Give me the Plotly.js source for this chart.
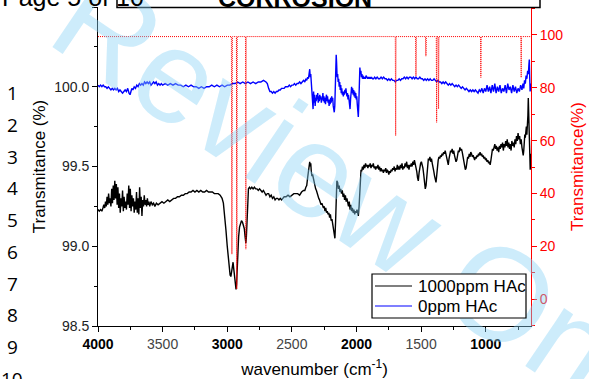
<!DOCTYPE html>
<html>
<head>
<meta charset="utf-8">
<script src="https://cdn.plot.ly/plotly-3.0.1.min.js"></script>
<style>
  html, body { margin: 0; padding: 0; background: #fff; }
  #chart { width: 589px; height: 379px; }
</style>
</head>
<body>
<div id="chart"></div>
<script>
// FTIR spectra: [wavenumber cm-1, transmittance %]
const spec1000ppm = [
  [4000,99.23],[3990,99.22],[3980,99.23],[3970,99.22],[3962,99.24],[3955,99.26],[3948,99.24],[3942,99.28],
  [3936,99.25],[3930,99.31],[3924,99.26],[3918,99.33],[3912,99.27],[3906,99.30],[3900,99.25],[3894,99.36],
  [3888,99.27],[3882,99.38],[3876,99.29],[3870,99.41],[3864,99.30],[3858,99.39],[3852,99.26],[3846,99.37],
  [3840,99.24],[3834,99.33],[3828,99.21],[3822,99.30],[3816,99.25],[3810,99.35],[3804,99.22],[3798,99.31],
  [3792,99.24],[3786,99.28],[3780,99.23],[3774,99.33],[3768,99.26],[3762,99.38],[3756,99.24],[3750,99.36],
  [3744,99.22],[3738,99.32],[3732,99.25],[3726,99.30],[3720,99.21],[3714,99.28],[3708,99.23],[3702,99.34],
  [3696,99.21],[3690,99.30],[3684,99.20],[3678,99.37],[3672,99.24],[3666,99.31],[3660,99.19],[3654,99.29],
  [3648,99.25],[3642,99.32],[3636,99.26],[3630,99.29],[3624,99.25],[3618,99.30],[3612,99.26],[3606,99.28],
  [3600,99.25],[3590,99.28],[3580,99.26],[3570,99.27],[3560,99.25],[3548,99.27],[3535,99.26],[3520,99.27],
  [3505,99.28],[3490,99.27],[3475,99.28],[3460,99.29],[3445,99.28],[3430,99.29],[3415,99.30],[3400,99.30],
  [3385,99.31],[3370,99.31],[3355,99.32],[3340,99.32],[3325,99.33],[3310,99.33],[3295,99.34],[3280,99.34],
  [3265,99.35],[3250,99.34],[3235,99.35],[3220,99.34],[3205,99.35],[3190,99.34],[3175,99.34],[3160,99.35],
  [3145,99.34],[3130,99.34],[3115,99.34],[3100,99.33],[3085,99.33],[3070,99.33],[3055,99.32],[3040,99.30],
  [3030,99.27],[3020,99.20],[3010,99.10],[3000,99.00],[2992,98.92],[2985,98.86],[2978,98.82],[2972,98.81],
  [2966,98.84],[2960,98.89],[2955,98.90],[2950,98.86],[2944,98.80],[2938,98.75],[2932,98.73],[2928,98.76],
  [2924,98.86],[2918,98.97],[2912,99.06],[2905,99.12],[2898,99.15],[2890,99.16],[2882,99.15],[2875,99.13],
  [2868,99.11],[2862,99.06],[2856,99.02],[2852,99.06],[2847,99.20],[2842,99.31],[2836,99.36],[2828,99.37],
  [2820,99.36],[2810,99.37],[2800,99.36],[2790,99.37],[2780,99.36],[2770,99.36],[2760,99.35],[2750,99.36],
  [2740,99.35],[2730,99.34],[2720,99.35],[2710,99.33],[2700,99.32],[2690,99.33],[2680,99.33],[2670,99.31],
  [2660,99.32],[2650,99.30],[2640,99.31],[2630,99.29],[2620,99.30],[2610,99.30],[2600,99.29],[2590,99.30],
  [2580,99.29],[2570,99.30],[2560,99.31],[2545,99.31],[2530,99.32],[2515,99.31],[2500,99.32],[2485,99.33],
  [2470,99.33],[2455,99.33],[2440,99.32],[2425,99.34],[2410,99.35],[2400,99.35],[2392,99.37],[2385,99.38],
  [2378,99.43],[2372,99.47],[2366,99.51],[2362,99.53],[2358,99.50],[2354,99.52],[2350,99.47],[2345,99.44],
  [2340,99.45],[2334,99.42],[2328,99.40],[2322,99.38],[2316,99.36],[2310,99.35],[2304,99.33],[2298,99.32],
  [2292,99.30],[2286,99.29],[2280,99.28],[2274,99.26],[2268,99.27],[2262,99.25],[2256,99.24],[2250,99.25],
  [2244,99.22],[2238,99.24],[2232,99.21],[2226,99.22],[2220,99.20],[2214,99.21],[2208,99.18],[2202,99.20],
  [2196,99.16],[2190,99.17],[2184,99.14],[2178,99.12],[2172,99.08],[2167,99.05],[2162,99.15],[2157,99.32],
  [2152,99.41],[2146,99.40],[2140,99.36],[2134,99.38],[2128,99.34],[2122,99.36],[2116,99.33],[2110,99.35],
  [2104,99.31],[2098,99.33],[2092,99.29],[2086,99.32],[2080,99.28],[2074,99.30],[2068,99.27],[2062,99.25],
  [2056,99.28],[2050,99.23],[2044,99.26],[2038,99.22],[2032,99.24],[2026,99.21],[2020,99.23],[2014,99.20],
  [2008,99.22],[2002,99.21],[1996,99.23],[1990,99.20],[1986,99.19],[1980,99.25],[1975,99.35],[1970,99.44],
  [1965,99.48],[1960,99.47],[1954,99.50],[1948,99.48],[1942,99.51],[1936,99.49],[1930,99.52],[1924,99.50],
  [1918,99.51],[1912,99.49],[1906,99.51],[1900,99.50],[1894,99.52],[1888,99.49],[1882,99.51],[1876,99.50],
  [1870,99.52],[1864,99.49],[1858,99.50],[1852,99.48],[1846,99.50],[1840,99.49],[1834,99.51],[1828,99.48],
  [1822,99.50],[1816,99.47],[1810,99.49],[1804,99.47],[1798,99.48],[1792,99.46],[1786,99.48],[1780,99.47],
  [1774,99.49],[1768,99.46],[1762,99.48],[1756,99.47],[1750,99.45],[1744,99.47],[1738,99.46],[1732,99.48],
  [1726,99.47],[1720,99.49],[1714,99.48],[1708,99.50],[1702,99.47],[1696,99.49],[1690,99.48],[1684,99.51],
  [1678,99.48],[1672,99.50],[1666,99.48],[1660,99.51],[1654,99.49],[1648,99.52],[1642,99.48],[1636,99.50],
  [1630,99.49],[1624,99.52],[1618,99.50],[1612,99.53],[1606,99.49],[1600,99.51],[1594,99.48],[1588,99.51],
  [1582,99.50],[1576,99.52],[1570,99.50],[1564,99.53],[1558,99.51],[1552,99.54],[1546,99.52],[1540,99.50],
  [1534,99.47],[1528,99.43],[1522,99.41],[1516,99.46],[1510,99.51],[1504,99.52],[1498,99.53],[1492,99.51],
  [1486,99.49],[1480,99.45],[1474,99.40],[1468,99.36],[1462,99.38],[1456,99.45],[1450,99.52],[1444,99.55],
  [1438,99.54],[1432,99.56],[1426,99.53],[1420,99.55],[1414,99.52],[1408,99.50],[1402,99.47],[1396,99.44],
  [1390,99.41],[1385,99.40],[1380,99.44],[1374,99.50],[1368,99.54],[1362,99.56],[1356,99.55],[1350,99.57],
  [1344,99.56],[1338,99.58],[1332,99.57],[1326,99.59],[1320,99.58],[1314,99.60],[1308,99.58],[1302,99.56],
  [1296,99.53],[1290,99.51],[1284,99.55],[1278,99.58],[1272,99.60],[1266,99.59],[1260,99.61],[1254,99.58],
  [1248,99.60],[1242,99.57],[1236,99.55],[1230,99.53],[1224,99.54],[1218,99.58],[1212,99.60],[1206,99.59],
  [1200,99.62],[1194,99.60],[1188,99.61],[1182,99.59],[1176,99.56],[1170,99.53],[1164,99.50],[1158,99.48],
  [1152,99.49],[1146,99.53],[1140,99.56],[1134,99.55],[1128,99.58],[1122,99.56],[1116,99.59],[1110,99.58],
  [1104,99.56],[1098,99.57],[1092,99.55],[1086,99.54],[1080,99.56],[1074,99.55],[1068,99.57],[1062,99.56],
  [1056,99.58],[1050,99.57],[1044,99.59],[1038,99.57],[1032,99.58],[1026,99.56],[1020,99.57],[1014,99.55],
  [1008,99.56],[1002,99.54],[996,99.55],[990,99.53],[984,99.54],[978,99.52],[972,99.53],[966,99.51],
  [960,99.54],[954,99.58],[948,99.61],[942,99.60],[936,99.62],[930,99.64],[924,99.61],[918,99.63],
  [912,99.60],[906,99.62],[900,99.59],[894,99.63],[888,99.61],[882,99.64],[876,99.62],[870,99.65],
  [864,99.60],[858,99.64],[852,99.62],[846,99.66],[840,99.63],[834,99.67],[828,99.62],[822,99.65],
  [816,99.61],[810,99.64],[804,99.60],[798,99.66],[792,99.63],[786,99.65],[780,99.62],[774,99.67],
  [768,99.64],[762,99.69],[756,99.66],[750,99.71],[744,99.67],[738,99.69],[732,99.64],[726,99.67],
  [720,99.62],[714,99.60],[710,99.57],[706,99.60],[702,99.66],[698,99.70],[694,99.68],[690,99.72],
  [686,99.75],[682,99.70],[678,99.74],[674,99.82],[671,99.93],[668,99.80],[665,99.70],[662,99.60],
  [659,99.52],[656,99.48],[653,99.55],[650,99.58]
];

const spec0ppm = [
  [4000,100.01],[3990,100.00],[3980,100.01],[3970,100.00],[3960,100.01],[3950,100.00],[3940,100.00],[3930,99.99],
  [3920,100.00],[3910,99.99],[3900,99.98],[3890,99.99],[3880,99.98],[3870,99.99],[3860,99.98],[3850,99.99],
  [3840,99.97],[3830,99.98],[3820,99.97],[3810,99.96],[3800,99.97],[3790,99.98],[3780,99.97],[3770,99.99],
  [3760,99.96],[3752,99.95],[3745,99.97],[3738,99.99],[3730,99.98],[3720,100.00],[3710,99.99],[3700,100.01],
  [3690,100.00],[3680,100.02],[3670,100.01],[3660,100.02],[3650,100.01],[3640,100.03],[3630,100.02],[3620,100.03],
  [3610,100.02],[3600,100.03],[3590,100.01],[3580,100.02],[3570,100.03],[3560,100.02],[3550,100.03],[3540,100.01],
  [3530,100.02],[3520,100.01],[3510,100.02],[3500,100.01],[3480,100.02],[3460,100.01],[3440,100.02],[3420,100.01],
  [3400,100.02],[3380,100.01],[3360,100.01],[3340,100.00],[3320,100.01],[3300,100.00],[3280,100.01],[3260,100.00],
  [3240,100.00],[3220,99.99],[3200,100.00],[3180,99.99],[3160,100.00],[3140,100.00],[3120,100.01],[3100,100.00],
  [3080,100.01],[3060,100.00],[3040,100.01],[3020,100.00],[3000,100.01],[2980,100.01],[2960,100.02],[2940,100.02],
  [2920,100.03],[2900,100.02],[2880,100.03],[2860,100.02],[2840,100.03],[2820,100.02],[2800,100.03],[2780,100.02],
  [2760,100.03],[2740,100.03],[2720,100.04],[2700,100.03],[2690,100.02],[2680,99.99],[2670,99.97],[2660,99.97],
  [2650,99.96],[2640,99.97],[2630,99.96],[2620,99.97],[2610,99.97],[2600,99.98],[2590,99.98],[2580,99.99],
  [2570,99.99],[2560,99.99],[2550,100.00],[2540,100.00],[2530,100.00],[2520,100.01],[2510,100.00],[2500,100.01],
  [2490,100.01],[2480,100.02],[2470,100.01],[2460,100.02],[2450,100.02],[2440,100.03],[2430,100.02],[2420,100.03],
  [2410,100.04],[2400,100.03],[2392,100.05],[2385,100.04],[2378,100.06],[2372,100.05],[2366,100.08],[2362,100.11],
  [2358,100.06],[2354,100.08],[2350,100.03],[2345,99.98],[2340,99.92],[2336,99.86],[2332,99.97],[2328,99.90],
  [2324,99.95],[2320,99.88],[2316,99.93],[2312,99.91],[2308,99.95],[2304,99.92],[2300,99.96],[2296,99.90],
  [2292,99.94],[2288,99.91],[2284,99.95],[2280,99.92],[2276,99.94],[2272,99.90],[2268,99.93],[2264,99.92],
  [2260,99.96],[2256,99.91],[2252,99.94],[2248,99.90],[2244,99.93],[2240,99.89],[2236,99.93],[2232,99.95],
  [2228,99.91],[2224,99.94],[2220,99.90],[2216,99.92],[2212,99.88],[2208,99.92],[2204,99.89],[2200,99.93],
  [2196,99.90],[2192,99.94],[2188,99.91],[2184,99.93],[2180,99.88],[2176,99.86],[2172,99.84],[2168,99.88],
  [2164,99.98],[2160,100.12],[2157,100.20],[2154,100.15],[2150,100.06],[2146,100.08],[2142,100.03],[2138,100.05],
  [2134,100.00],[2130,100.03],[2126,99.98],[2122,100.01],[2118,99.96],[2114,99.99],[2110,99.95],[2106,99.97],
  [2102,99.94],[2098,99.97],[2094,99.95],[2090,99.98],[2086,99.96],[2082,99.99],[2078,99.96],[2074,99.94],
  [2070,99.96],[2066,99.92],[2062,99.95],[2058,99.90],[2054,99.88],[2050,99.86],[2046,99.92],[2042,99.97],
  [2038,100.00],[2034,99.96],[2030,99.99],[2026,99.95],[2022,99.98],[2018,99.94],[2014,99.97],[2010,99.93],
  [2006,99.96],[2002,99.92],[1998,99.94],[1994,99.89],[1990,99.85],[1986,99.81],[1982,99.90],[1978,100.02],
  [1974,100.12],[1970,100.08],[1966,100.10],[1962,100.06],[1958,100.08],[1954,100.05],[1950,100.07],[1944,100.05],
  [1938,100.06],[1932,100.05],[1926,100.07],[1920,100.06],[1914,100.05],[1908,100.06],[1902,100.05],[1896,100.06],
  [1890,100.05],[1884,100.06],[1876,100.05],[1868,100.05],[1860,100.06],[1850,100.05],[1840,100.06],[1830,100.05],
  [1820,100.05],[1810,100.06],[1800,100.05],[1790,100.06],[1780,100.05],[1770,100.05],[1760,100.04],[1750,100.05],
  [1740,100.04],[1730,100.05],[1720,100.04],[1710,100.04],[1700,100.03],[1690,100.04],[1680,100.04],[1670,100.05],
  [1660,100.04],[1650,100.05],[1640,100.05],[1630,100.06],[1620,100.05],[1610,100.06],[1600,100.05],[1590,100.06],
  [1580,100.06],[1570,100.05],[1560,100.06],[1550,100.05],[1540,100.06],[1530,100.05],[1520,100.05],[1510,100.06],
  [1500,100.05],[1490,100.05],[1480,100.04],[1470,100.05],[1460,100.04],[1450,100.05],[1440,100.04],[1430,100.05],
  [1420,100.04],[1410,100.04],[1400,100.05],[1390,100.04],[1380,100.03],[1370,100.04],[1360,100.03],[1350,100.03],
  [1340,100.02],[1330,100.03],[1320,100.02],[1310,100.03],[1300,100.02],[1290,100.01],[1280,100.02],[1270,100.01],
  [1260,100.02],[1250,100.01],[1240,100.00],[1230,100.01],[1220,100.00],[1210,100.01],[1200,100.00],[1190,99.99],
  [1180,100.00],[1170,99.99],[1160,99.98],[1150,99.99],[1140,99.98],[1130,99.97],[1120,99.98],[1110,99.97],
  [1100,99.98],[1090,99.97],[1080,99.98],[1070,99.97],[1060,99.96],[1050,99.98],[1040,99.97],[1030,99.99],
  [1020,99.96],[1010,99.99],[1000,99.97],[990,100.01],[980,99.97],[970,100.00],[960,99.96],[950,100.01],
  [940,99.97],[930,100.02],[920,99.96],[910,100.00],[900,99.97],[890,100.01],[880,99.96],[870,99.99],
  [860,99.97],[850,100.01],[840,99.96],[830,100.02],[820,99.98],[810,100.00],[800,99.96],[790,100.01],
  [780,99.97],[770,100.00],[760,99.96],[750,99.99],[740,99.97],[730,100.01],[720,99.98],[712,100.02],
  [706,99.99],[700,100.04],[694,100.02],[688,100.07],[682,100.05],[676,100.10],[670,100.08],[666,100.14],
  [663,100.17],[660,100.06],[657,99.97],[654,99.99],[650,100.02]
];

// reference stick spectrum on the right-hand axis
const specRef = [
  [4000,99.4],[2968,99.4],[2964,17.0],[2960,99.4],[2929,99.4],[2926,3.8],[2923,99.4],
  [2859,99.4],[2856,18.9],[2853,99.4],[1700,99.4],[1697,61.9],[1694,99.4],
  [1543,99.4],[1540,84.5],[1537,99.4],[1466,99.4],[1463,92.0],[1460,99.4],
  [1383,99.4],[1380,66.9],[1377,99.4],[1368,99.4],[1365,72.0],[1362,99.4],
  [1041,99.4],[1038,83.9],[1035,99.4],[729,99.4],[726,83.9],[723,99.4],[650,99.4]
];

const seriesNames = ['1000ppm HAc', '0ppm HAc'];
const seriesColors = ['#000000', '#0000ff'];
const xTickVals = [4000, 3500, 3000, 2500, 2000, 1500, 1000];
const lineNumbers = ['1','2','3','4','5','6','7','8','9','10'];

const col = (arr, i) => arr.map(p => p[i]);
const FONT = 'Liberation Sans, Arial, sans-serif';

const traces = [
  { x: col(spec1000ppm,0), y: col(spec1000ppm,1), name: seriesNames[0], type: 'scatter', mode: 'lines',
    line: { color: seriesColors[0], width: 1.4 }, xaxis: 'x', yaxis: 'y' },
  { x: col(spec0ppm,0), y: col(spec0ppm,1), name: seriesNames[1], type: 'scatter', mode: 'lines',
    line: { color: seriesColors[1], width: 1.4 }, xaxis: 'x', yaxis: 'y' },
  { x: col(specRef,0), y: col(specRef,1), showlegend: false, type: 'scatter', mode: 'lines',
    line: { color: '#ff0000', width: 1, dash: '1px,1px' }, xaxis: 'x', yaxis: 'y2' }
];

const W = 589, H = 379, M = { l: 98, r: 58, t: 7, b: 53 };
const pw = W - M.l - M.r, ph = H - M.t - M.b;
const px2x = px => (px - M.l) / pw;
const px2y = py => (H - M.b - py) / ph;

const annotations = [
  // page header
  { text: 'Page 5 of 10', xref: 'paper', yref: 'paper', x: px2x(0), y: px2y(13), xanchor: 'left', yanchor: 'bottom',
    showarrow: false, font: { family: FONT, size: 25, color: '#000' } },
  { text: '<b>CORROSION</b>', xref: 'paper', yref: 'paper', x: px2x(295), y: px2y(13.5), xanchor: 'center', yanchor: 'bottom',
    showarrow: false, font: { family: FONT, size: 25, color: '#000' } }
];
lineNumbers.forEach((t, i) => {
  annotations.push({ text: t, xref: 'paper', yref: 'paper', x: px2x(12), y: px2y(93.3 + i * 31.7),
    xanchor: 'center', yanchor: 'middle', showarrow: false, font: { family: 'Open Sans, sans-serif', size: 19, color: '#000' } });
});

// diagonal watermark carried as the label of an invisible guide line
const wm = { cx: 286, cy: 134, angle: 34, half: 260 };
const wdx = Math.cos(wm.angle * Math.PI / 180) * wm.half, wdy = Math.sin(wm.angle * Math.PI / 180) * wm.half;

// boxed key in the lower right of the plot
const key = { left: 372, right: 526, top: 274, bottom: 318, rows: [286, 306], sample: [375, 412], textX: 416 };
const shapes = [
  { type: 'rect', xref: 'paper', yref: 'paper', x0: px2x(117), x1: px2x(540), y0: px2y(7.5), y1: px2y(-10),
    line: { color: '#000', width: 1.5 }, fillcolor: 'rgba(0,0,0,0)' },
  { type: 'line', xref: 'paper', yref: 'paper', layer: 'above',
    x0: px2x(wm.cx - wdx), y0: px2y(wm.cy - wdy), x1: px2x(wm.cx + wdx), y1: px2y(wm.cy + wdy),
    line: { color: 'rgba(0,0,0,0)', width: 0 },
    label: { text: 'For Review Only', textposition: 'middle', textangle: 'auto', yanchor: 'middle', padding: 0,
      font: { family: FONT, size: 132, color: 'rgba(135,210,245,0.42)' } } },
  { type: 'rect', xref: 'paper', yref: 'paper', x0: px2x(key.left), x1: px2x(key.right), y0: px2y(key.bottom), y1: px2y(key.top),
    line: { color: '#000', width: 1.2 }, fillcolor: '#fff', layer: 'above' }
];
seriesNames.forEach((name, i) => {
  shapes.push({ type: 'line', xref: 'paper', yref: 'paper', x0: px2x(key.sample[0]), x1: px2x(key.sample[1]),
    y0: px2y(key.rows[i]), y1: px2y(key.rows[i]), line: { color: seriesColors[i], width: 1.2 }, layer: 'above' });
  annotations.push({ text: name, xref: 'paper', yref: 'paper', x: px2x(key.textX), y: px2y(key.rows[i] + 0.5),
    xanchor: 'left', yanchor: 'middle', showarrow: false, font: { family: FONT, size: 17, color: '#000' } });
});

const layout = {
  width: W, height: H, margin: M, paper_bgcolor: '#fff', plot_bgcolor: 'rgba(0,0,0,0)',
  font: { family: FONT, size: 14, color: '#000' },
  showlegend: false,
  xaxis: {
    range: [4000, 650], showgrid: false, zeroline: false, showline: true, linecolor: '#000', linewidth: 1,
    ticks: 'outside', ticklen: 5, tickwidth: 1, tickcolor: '#000', tickmode: 'array', tickvals: xTickVals,
    ticktext: xTickVals.map(v => v % 1000 === 0 ? '<b>' + v + '</b>' : '<span style="color:#444">' + v + '</span>'),
    minor: { tickvals: [3750, 3250, 2750, 2250, 1750, 1250, 750], ticklen: 3, tickcolor: '#000', ticks: 'outside' },
    tickfont: { family: FONT, size: 14, color: '#000' },
    title: { text: 'wavenumber (cm<sup>-1</sup>)', font: { family: FONT, size: 17, color: '#000' }, standoff: 13 }
  },
  yaxis: {
    range: [98.5, 100.5], showgrid: false, zeroline: false, showline: true, linecolor: '#000', linewidth: 1,
    ticks: 'outside', ticklen: 5, tickwidth: 1, tickcolor: '#000', dtick: 0.5, tick0: 98.5, tickformat: '.1f',
    minor: { dtick: 0.25, tick0: 98.5, ticklen: 3, tickcolor: '#000', ticks: 'outside' },
    tickfont: { family: FONT, size: 14, color: '#222' },
    title: { text: 'Transmitance (%)', font: { family: FONT, size: 17, color: '#000' }, standoff: 4 }
  },
  yaxis2: {
    overlaying: 'y', side: 'right', anchor: 'x', range: [-10.2, 110.6], showgrid: false, zeroline: false,
    showline: true, linecolor: '#ff0000', linewidth: 1, ticks: 'outside', ticklen: 5, tickwidth: 1, tickcolor: '#ff0000',
    dtick: 20, tick0: 0, minor: { dtick: 10, tick0: 0, ticklen: 3, tickcolor: '#ff0000', ticks: 'outside' },
    tickfont: { family: FONT, size: 14, color: '#ff0000' },
    title: { text: 'Transmitance(%)', font: { family: FONT, size: 17, color: '#ff0000' }, standoff: 8 }
  },
  shapes: shapes,
  annotations: annotations
};

Plotly.newPlot('chart', traces, layout, { displayModeBar: false, staticPlot: true });
</script>
</body>
</html>
